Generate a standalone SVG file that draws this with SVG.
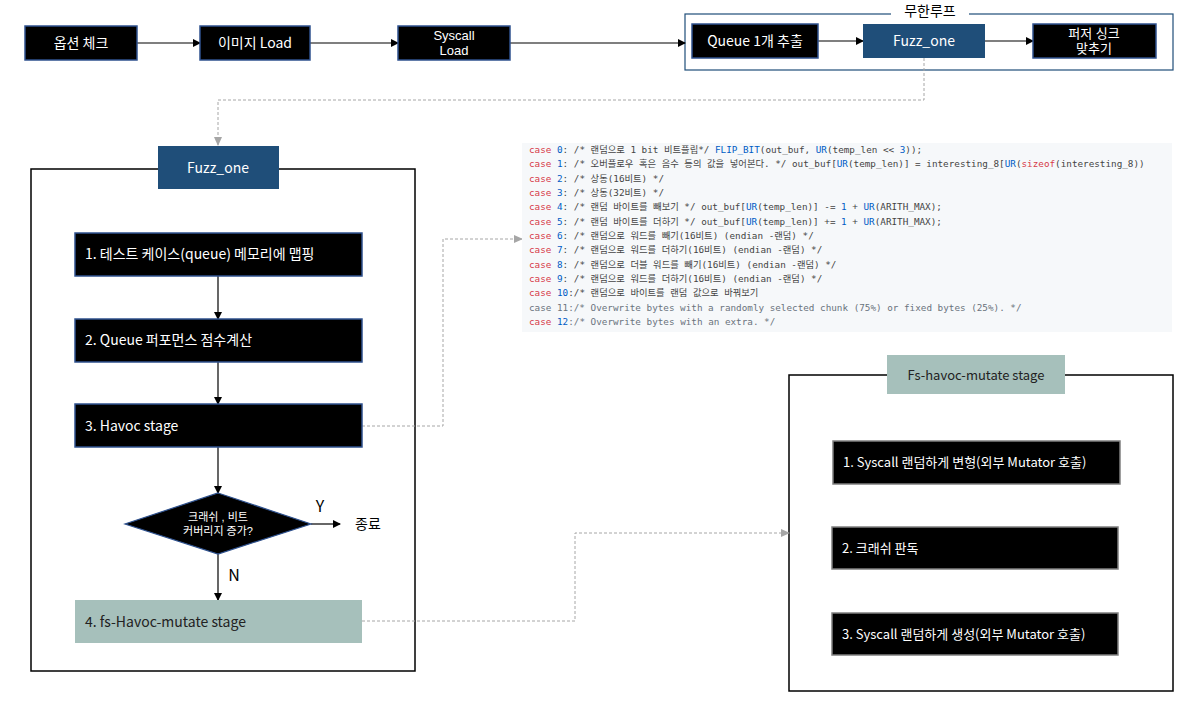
<svg xmlns="http://www.w3.org/2000/svg" width="1191" height="702" viewBox="0 0 1191 702">
<defs>
<style>
.t{font-family:"Noto Sans CJK KR","Noto Sans",sans-serif;font-size:14px;}
.t2{font-family:"Liberation Sans","Noto Sans CJK KR",sans-serif;font-size:13px;}
.w{fill:#fff;}
.k{fill:#000;}
.blk{fill:#000;stroke:#2f528f;stroke-width:1.5;}
.blk2{fill:#000;stroke:#7f7f7f;stroke-width:1.5;}
.blue{fill:#1f4e79;}
.teal{fill:#a6c0bb;}
.frame{fill:none;stroke:#000;stroke-width:1.5;}
.conn{stroke:#000;stroke-width:1.2;fill:none;}
.dash{stroke:#a6a6a6;stroke-width:1;stroke-dasharray:3 2;fill:none;}
.code{font-family:"DejaVu Sans Mono","Noto Sans CJK KR",monospace;font-size:9.3px;fill:#444;}
.c{fill:#d73a49;}
.n{fill:#005cc5;}
.g{fill:#6a737d;}
</style>
<marker id="ah" markerWidth="8" markerHeight="8" refX="7" refY="4" orient="auto" markerUnits="userSpaceOnUse">
<path d="M0,0 L8,4 L0,8 z" fill="#000"/>
</marker>
<marker id="ahg" markerWidth="9" markerHeight="8" refX="8" refY="4" orient="auto" markerUnits="userSpaceOnUse">
<path d="M0,0 L9,4 L0,8 z" fill="#a6a6a6"/>
</marker>
</defs>
<rect width="1191" height="702" fill="#fff"/>

<!-- frames -->
<g id="loop-frame">
<rect x="685" y="14" width="488" height="56" fill="none" stroke="#1f4e79" stroke-width="1.2"/>
<rect x="891" y="6" width="78" height="14" fill="#fff"/>
<text class="t k" x="930" y="16" text-anchor="middle">무한루프</text>
</g>
<g id="fuzz-frame">
<rect class="frame" x="31" y="169" width="384" height="502"/>
</g>
<g id="fs-frame">
<rect class="frame" x="789" y="375" width="384" height="316"/>
</g>

<!-- connectors -->
<g id="connectors">
<line class="conn" x1="137" y1="43" x2="200" y2="43" marker-end="url(#ah)"/>
<line class="conn" x1="310" y1="43" x2="398" y2="43" marker-end="url(#ah)"/>
<line class="conn" x1="510" y1="43" x2="685" y2="43" marker-end="url(#ah)"/>
<line class="conn" x1="818" y1="41" x2="863" y2="41" marker-end="url(#ah)"/>
<line class="conn" x1="985" y1="41" x2="1033" y2="41" marker-end="url(#ah)"/>
<polyline class="dash" points="924,58 924,100 218,100 218,145" marker-end="url(#ahg)"/>
<line class="conn" x1="218" y1="276" x2="218" y2="319" marker-end="url(#ah)"/>
<line class="conn" x1="218" y1="362" x2="218" y2="404" marker-end="url(#ah)"/>
<line class="conn" x1="218" y1="447" x2="218" y2="493" marker-end="url(#ah)"/>
<line class="conn" x1="218" y1="554" x2="218" y2="600" marker-end="url(#ah)"/>
<line class="conn" x1="311" y1="524" x2="340" y2="524" marker-end="url(#ah)"/>
<polyline class="dash" points="362,426 443,426 443,239 522,239" marker-end="url(#ahg)"/>
<polyline class="dash" points="362,621 575,621 575,533 789,533" marker-end="url(#ahg)"/>
<text class="t k" x="320" y="512" text-anchor="middle" style="font-size:16px">Y</text>
<text class="t k" x="234" y="581" text-anchor="middle" style="font-size:16px">N</text>
<text class="t k" x="355" y="529">종료</text>
</g>

<!-- top row -->
<g id="opt">
<rect class="blk" x="25" y="26" width="112" height="34"/>
<text class="t w" x="81" y="48" text-anchor="middle">옵션 체크</text>
</g>
<g id="img">
<rect class="blk" x="200" y="26" width="110" height="34"/>
<text class="t w" x="255" y="48" text-anchor="middle">이미지 Load</text>
</g>
<g id="syscall">
<rect class="blk" x="398" y="26" width="112" height="34"/>
<text class="t2 w" x="454" y="40" text-anchor="middle">Syscall</text>
<text class="t2 w" x="454" y="55" text-anchor="middle">Load</text>
</g>
<g id="queue">
<rect class="blk" x="692" y="24" width="126" height="34"/>
<text class="t w" x="755" y="46" text-anchor="middle">Queue 1개 추출</text>
</g>
<g id="fuzzone-top">
<rect class="blue" x="863" y="24" width="122" height="34"/>
<text class="t w" x="924" y="46" text-anchor="middle">Fuzz_one</text>
</g>
<g id="sync">
<rect class="blk" x="1033" y="24" width="123" height="34"/>
<text class="t2 w" x="1094" y="38" text-anchor="middle">퍼저 싱크</text>
<text class="t2 w" x="1094" y="53" text-anchor="middle">맞추기</text>
</g>

<!-- fuzz_one section -->
<g id="fuzzone-label">
<rect class="blue" x="158" y="146" width="121" height="43"/>
<text class="t w" x="218" y="173" text-anchor="middle">Fuzz_one</text>
</g>
<g id="step1">
<rect class="blk" x="75" y="233" width="287" height="43"/>
<text class="t w" x="85" y="259">1. 테스트 케이스(queue) 메모리에 맵핑</text>
</g>
<g id="step2">
<rect class="blk" x="75" y="319" width="287" height="43"/>
<text class="t w" x="85" y="345">2. Queue 퍼포먼스 점수계산</text>
</g>
<g id="step3">
<rect class="blk" x="75" y="404" width="287" height="43"/>
<text class="t w" x="85" y="431">3. Havoc stage</text>
</g>
<g id="decision">
<polygon points="218,493 311,524 218,554 125,524" fill="#000" stroke="#2f528f" stroke-width="1.2"/>
<text class="t2 w" x="218" y="521" text-anchor="middle" style="font-size:11px">크래쉬 , 비트</text>
<text class="t2 w" x="218" y="535" text-anchor="middle" style="font-size:11px">커버리지 증가?</text>
</g>
<g id="step4">
<rect class="teal" x="75" y="600" width="287" height="43"/>
<text class="t" x="85" y="627" fill="#222">4. fs-Havoc-mutate stage</text>
</g>

<!-- code block -->
<g id="code">
<rect x="522" y="143" width="650" height="189" fill="#f6f8fa"/>
<text class="code" x="529" y="153"><tspan class="c">case</tspan> <tspan class="n">0</tspan>: /* 랜덤으로 1 bit 비트플립*/ <tspan class="n">FLIP_BIT</tspan>(out_buf, <tspan class="n">UR</tspan>(temp_len &lt;&lt; <tspan class="n">3</tspan>));</text>
<text class="code" x="529" y="167.3"><tspan class="c">case</tspan> <tspan class="n">1</tspan>: /* 오버플로우 혹은 음수 등의 값을 넣어본다. */ out_buf[<tspan class="n">UR</tspan>(temp_len)] = interesting_8[<tspan class="n">UR</tspan>(<tspan class="c">sizeof</tspan>(interesting_8))</text>
<text class="code" x="529" y="181.7"><tspan class="c">case</tspan> <tspan class="n">2</tspan>: /* 상동(16비트) */</text>
<text class="code" x="529" y="196"><tspan class="c">case</tspan> <tspan class="n">3</tspan>: /* 상동(32비트) */</text>
<text class="code" x="529" y="210.3"><tspan class="c">case</tspan> <tspan class="n">4</tspan>: /* 랜덤 바이트를 빼보기 */ out_buf[<tspan class="n">UR</tspan>(temp_len)] -= <tspan class="n">1</tspan> + <tspan class="n">UR</tspan>(ARITH_MAX);</text>
<text class="code" x="529" y="224.7"><tspan class="c">case</tspan> <tspan class="n">5</tspan>: /* 랜덤 바이트를 더하기 */ out_buf[<tspan class="n">UR</tspan>(temp_len)] += <tspan class="n">1</tspan> + <tspan class="n">UR</tspan>(ARITH_MAX);</text>
<text class="code" x="529" y="239"><tspan class="c">case</tspan> <tspan class="n">6</tspan>: /* 랜덤으로 워드를 빼기(16비트) (endian -랜덤) */</text>
<text class="code" x="529" y="253.3"><tspan class="c">case</tspan> <tspan class="n">7</tspan>: /* 랜덤으로 워드를 더하기(16비트) (endian -랜덤) */</text>
<text class="code" x="529" y="267.7"><tspan class="c">case</tspan> <tspan class="n">8</tspan>: /* 랜덤으로 더블 워드를 빼기(16비트) (endian -랜덤) */</text>
<text class="code" x="529" y="282"><tspan class="c">case</tspan> <tspan class="n">9</tspan>: /* 랜덤으로 워드를 더하기(16비트) (endian -랜덤) */</text>
<text class="code" x="529" y="296.3"><tspan class="c">case</tspan> <tspan class="n">10</tspan>:/* 랜덤으로 바이트를 랜덤 값으로 바꿔보기</text>
<text class="code g" x="529" y="310.7">case 11:/* Overwrite bytes with a randomly selected chunk (75%) or fixed bytes (25%). */</text>
<text class="code g" x="529" y="325"><tspan class="c">case</tspan> <tspan class="n">12</tspan>:/* Overwrite bytes with an extra. */</text>
</g>

<!-- fs-havoc section -->
<g id="fs-label">
<rect class="teal" x="887" y="355" width="178" height="39"/>
<text class="t" x="976" y="380" text-anchor="middle" fill="#222" style="font-size:13px">Fs-havoc-mutate stage</text>
</g>
<g id="fs1">
<rect class="blk2" x="833" y="441" width="287" height="43"/>
<text class="t w" x="843" y="467" style="font-size:13px">1. Syscall 랜덤하게 변형(외부 Mutator 호출)</text>
</g>
<g id="fs2">
<rect class="blk2" x="832" y="527" width="286" height="42"/>
<text class="t w" x="842" y="553" style="font-size:13px">2. 크래쉬 판독</text>
</g>
<g id="fs3">
<rect class="blk2" x="832" y="613" width="286" height="42"/>
<text class="t w" x="842" y="639" style="font-size:13px">3. Syscall 랜덤하게 생성(외부 Mutator 호출)</text>
</g>
</svg>
